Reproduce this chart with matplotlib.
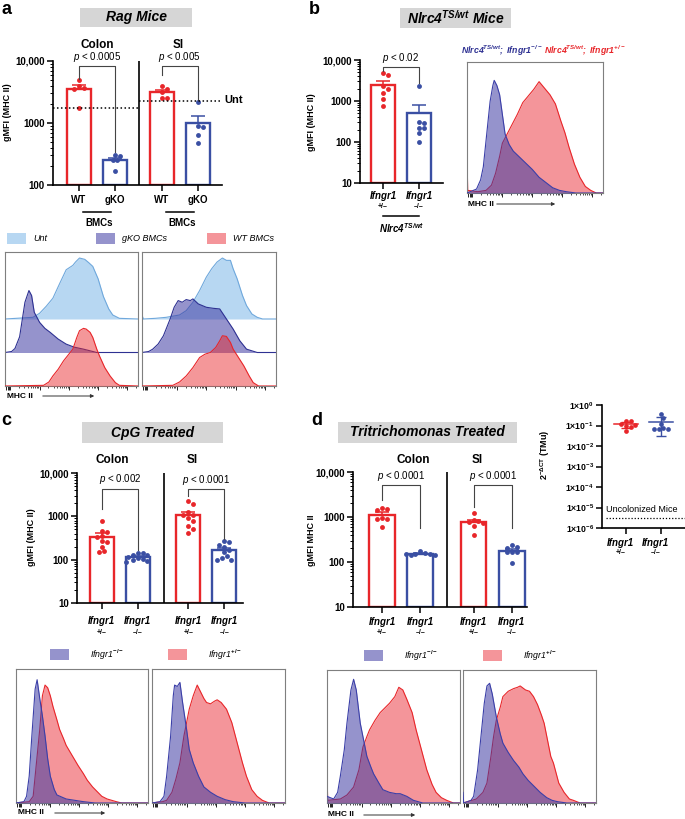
import numpy as np
import matplotlib
matplotlib.use("Agg")
import matplotlib.pyplot as plt
from matplotlib.patches import Rectangle, FancyArrowPatch
from matplotlib.transforms import blended_transform_factory
from matplotlib.ticker import NullFormatter, LogLocator, FixedLocator

W, H = 685, 819

plt.rcParams['font.family'] = ['Liberation Sans', 'DejaVu Sans']
plt.rcParams['mathtext.fontset'] = 'custom'
plt.rcParams['mathtext.rm'] = 'Liberation Sans:bold'
plt.rcParams['mathtext.it'] = 'Liberation Sans:italic'
plt.rcParams['mathtext.bf'] = 'Liberation Sans:italic:bold'

RED = '#E8262A'
BLUE = '#3A4FA3'
PINK = '#F4959A'
LAV = '#3E3AA2'
LAV_EDGE = '#3B3FA8'
UNT_FILL = '#B7D7F2'
UNT_EDGE = '#6FA8DC'

# ---- data ----
# a: Rag mice, gMFI (MHC II); colon WT, colon gKO, SI WT, SI gKO
a_labels = ['WT', 'gKO', 'WT', 'gKO']
a_vals = [[4900, 3900, 3700, 3600, 1750],
          [300, 290, 255, 250, 170],
          [4000, 3600, 3200, 2500, 2500],
          [2150, 900, 850, 640, 470]]
a_unt = [1770, 2290]
a_sig = ['p < 0.0005', 'p < 0.005']

# b: Nlrc4 TS/wt mice, Ifngr1 +/- and -/-
b_vals = [[4900, 4200, 2300, 2000, 1550, 1100, 760],
          [2330, 300, 290, 220, 215, 165, 100]]
b_sig = ['p < 0.02']

# c: CpG treated; colon +/-, colon -/-, SI +/-, SI -/-
c_vals = [[800, 470, 430, 350, 340, 270, 250, 200, 160, 150],
          [145, 140, 130, 125, 115, 110, 105, 100, 95, 90],
          [2200, 1900, 1250, 1100, 1050, 900, 800, 600, 500, 420],
          [270, 250, 220, 200, 170, 150, 120, 110, 100, 100]]
c_sig = ['p < 0.002', 'p < 0.0001']

# d: Tritrichomonas treated
d_vals = [[1600, 1500, 1450, 930, 900, 900, 590],
          [180, 155, 150, 148, 146, 145, 150],
          [1250, 860, 820, 780, 740, 620, 400],
          [240, 215, 210, 170, 165, 165, 95]]
d_sig = ['p < 0.0001', 'p < 0.0001']

# d inset: 2^-dCT (TMu)
tmu_het = [0.17, 0.16, 0.12, 0.11, 0.10, 0.085, 0.055]
tmu_ko = [0.36, 0.22, 0.12, 0.075, 0.07, 0.07, 0.07]
uncolonized = 3e-6

# bracket heights: (top, left leg end, right leg end)
a_br = [(8400, 5200, 345), (8400, 5900, 2350)]
b_br = [(6900, 5400, 2700)]
c_br = [(4370, 1500, 165), (4300, 3000, 300)]
d_br = [(5200, 2400, 560), (5200, 1700, 560)]

# histogram outlines, (fraction of x range, height)
a1_unt = [(0, 0), (0.21, 0.05), (0.26, 0.17), (0.31, 0.38), (0.36, 0.62), (0.41, 1.05), (0.46, 1.47),
          (0.51, 1.6), (0.53, 1.7), (0.56, 1.82), (0.6, 1.78), (0.63, 1.68), (0.66, 1.57), (0.70, 1.2),
          (0.74, 0.67), (0.78, 0.3), (0.81, 0.12), (0.86, 0.02), (1, 0)]
a1_gko = [(0, 0), (0.05, 0.03), (0.075, 0.12), (0.11, 0.47), (0.15, 1.5), (0.18, 1.85), (0.2, 1.7),
          (0.22, 1.2), (0.26, 0.9), (0.3, 0.72), (0.34, 0.6), (0.4, 0.4), (0.46, 0.25), (0.52, 0.16),
          (0.59, 0.1), (0.69, 0.0), (1, 0)]
a1_wt = [(0, 0), (0.29, 0.02), (0.33, 0.12), (0.36, 0.3), (0.40, 0.5), (0.44, 0.75), (0.48, 0.95),
         (0.51, 1.1), (0.54, 1.45), (0.56, 1.65), (0.59, 1.72), (0.61, 1.7), (0.64, 1.6), (0.66, 1.45),
         (0.69, 1.1), (0.71, 0.9), (0.75, 0.55), (0.79, 0.3), (0.83, 0.1), (0.86, 0.02), (1, 0)]
a2_unt = [(0, 0.12), (0.01, 0), (0.1, 0.02), (0.18, 0.05), (0.28, 0.12), (0.33, 0.25), (0.38, 0.5),
          (0.43, 0.85), (0.48, 1.25), (0.52, 1.5), (0.56, 1.7), (0.6, 1.82), (0.63, 1.75), (0.66, 1.75),
          (0.68, 1.5), (0.71, 1.2), (0.75, 0.7), (0.78, 0.4), (0.82, 0.15), (0.86, 0.05), (0.9, 0), (1, 0)]
a2_gko = [(0, 0), (0.05, 0.03), (0.08, 0.1), (0.12, 0.25), (0.16, 0.5), (0.21, 1.0), (0.24, 1.35),
          (0.27, 1.55), (0.3, 1.5), (0.33, 1.58), (0.36, 1.55), (0.38, 1.6), (0.42, 1.45), (0.48, 1.35),
          (0.53, 1.32), (0.58, 1.3), (0.63, 1.0), (0.68, 0.7), (0.73, 0.35), (0.78, 0.1), (0.86, 0), (1, 0)]
a2_wt = [(0, 0), (0.23, 0.02), (0.28, 0.12), (0.33, 0.3), (0.38, 0.55), (0.43, 0.85), (0.47, 0.95),
         (0.51, 1.0), (0.55, 1.15), (0.58, 1.35), (0.6, 1.5), (0.63, 1.48), (0.66, 1.3), (0.68, 1.1),
         (0.72, 0.85), (0.76, 0.6), (0.8, 0.3), (0.83, 0.1), (0.87, 0), (1, 0)]

b_ko = [(0, 0), (0.07, 0.03), (0.10, 0.1), (0.12, 0.2), (0.15, 0.5), (0.17, 0.7), (0.19, 0.82), (0.20, 0.86),
        (0.22, 0.82), (0.24, 0.75), (0.26, 0.6), (0.28, 0.45), (0.31, 0.37), (0.34, 0.32), (0.38, 0.28),
        (0.44, 0.22), (0.48, 0.18), (0.53, 0.12), (0.58, 0.08), (0.63, 0.04), (0.68, 0.02), (0.73, 0.01),
        (0.8, 0), (1, 0)]
b_het = [(0, 0.3), (0.005, 0.02), (0.08, 0.01), (0.14, 0.02), (0.18, 0.06), (0.21, 0.15), (0.24, 0.28),
         (0.26, 0.38), (0.29, 0.44), (0.33, 0.52), (0.37, 0.6), (0.41, 0.69), (0.45, 0.74), (0.49, 0.79),
         (0.53, 0.85), (0.57, 0.8), (0.61, 0.75), (0.65, 0.68), (0.69, 0.55), (0.72, 0.46), (0.75, 0.35),
         (0.79, 0.22), (0.83, 0.12), (0.87, 0.05), (0.91, 0.02), (0.95, 0.0), (1, 0)]

c1_ko = [(0, 0), (0.06, 0.01), (0.08, 0.05), (0.10, 0.2), (0.12, 0.5), (0.145, 0.85), (0.16, 0.92),
         (0.18, 0.78), (0.2, 0.65), (0.22, 0.5), (0.24, 0.33), (0.26, 0.2), (0.29, 0.1), (0.31, 0.06),
         (0.38, 0.03), (0.51, 0.01), (0.6, 0), (1, 0)]
c1_het = [(0, 0), (0.1, 0.01), (0.13, 0.05), (0.15, 0.25), (0.18, 0.55), (0.2, 0.8), (0.22, 0.88),
          (0.24, 0.86), (0.26, 0.8), (0.28, 0.72), (0.31, 0.62), (0.33, 0.55), (0.36, 0.48), (0.38, 0.43),
          (0.41, 0.38), (0.44, 0.33), (0.47, 0.28), (0.51, 0.22), (0.54, 0.17), (0.58, 0.12), (0.61, 0.09),
          (0.65, 0.05), (0.69, 0.03), (0.76, 0.01), (0.8, 0), (1, 0)]
c2_ko = [(0, 0), (0.06, 0.01), (0.09, 0.05), (0.11, 0.2), (0.14, 0.5), (0.16, 0.8), (0.17, 0.88),
         (0.19, 0.87), (0.21, 0.9), (0.23, 0.75), (0.26, 0.55), (0.28, 0.4), (0.31, 0.3), (0.35, 0.2),
         (0.39, 0.12), (0.44, 0.08), (0.49, 0.05), (0.55, 0.025), (0.61, 0.01), (0.7, 0), (1, 0)]
c2_het = [(0, 0), (0.08, 0.01), (0.11, 0.02), (0.15, 0.08), (0.18, 0.18), (0.21, 0.3), (0.24, 0.5),
          (0.26, 0.6), (0.28, 0.7), (0.31, 0.8), (0.34, 0.88), (0.36, 0.84), (0.39, 0.78), (0.41, 0.75),
          (0.44, 0.74), (0.47, 0.76), (0.49, 0.77), (0.52, 0.75), (0.56, 0.7), (0.6, 0.6), (0.64, 0.45),
          (0.68, 0.3), (0.71, 0.2), (0.75, 0.1), (0.79, 0.05), (0.83, 0.02), (0.88, 0), (1, 0)]

d1_ko = [(0, 0.05), (0.05, 0.03), (0.08, 0.08), (0.1, 0.2), (0.13, 0.4), (0.15, 0.6), (0.18, 0.85),
         (0.2, 0.93), (0.22, 0.85), (0.25, 0.6), (0.28, 0.45), (0.3, 0.35), (0.33, 0.27), (0.35, 0.22),
         (0.39, 0.15), (0.42, 0.1), (0.47, 0.08), (0.52, 0.07), (0.55, 0.07), (0.6, 0.05), (0.65, 0.02),
         (0.72, 0), (1, 0)]
d1_het = [(0, 0.25), (0.005, 0.02), (0.1, 0.03), (0.15, 0.06), (0.2, 0.12), (0.24, 0.25), (0.27, 0.42),
          (0.3, 0.5), (0.32, 0.55), (0.36, 0.62), (0.4, 0.68), (0.44, 0.72), (0.47, 0.75), (0.51, 0.8),
          (0.54, 0.87), (0.57, 0.85), (0.6, 0.78), (0.64, 0.68), (0.67, 0.55), (0.71, 0.4), (0.75, 0.25),
          (0.79, 0.14), (0.82, 0.08), (0.86, 0.04), (0.9, 0.02), (0.95, 0), (1, 0)]
d2_ko = [(0, 0.08), (0.005, 0), (0.06, 0.02), (0.08, 0.05), (0.11, 0.25), (0.13, 0.45), (0.16, 0.75),
         (0.18, 0.88), (0.2, 0.9), (0.22, 0.82), (0.25, 0.65), (0.28, 0.52), (0.3, 0.45), (0.34, 0.38),
         (0.38, 0.32), (0.42, 0.27), (0.45, 0.22), (0.49, 0.17), (0.53, 0.13), (0.58, 0.08), (0.63, 0.04),
         (0.67, 0.02), (0.71, 0.01), (0.78, 0), (1, 0)]
d2_het = [(0, 0), (0.1, 0.03), (0.15, 0.08), (0.18, 0.15), (0.21, 0.35), (0.23, 0.5), (0.25, 0.62),
          (0.28, 0.72), (0.3, 0.8), (0.34, 0.84), (0.38, 0.86), (0.41, 0.87), (0.43, 0.88), (0.47, 0.85),
          (0.5, 0.84), (0.53, 0.8), (0.56, 0.74), (0.59, 0.66), (0.61, 0.6), (0.64, 0.45), (0.66, 0.35),
          (0.68, 0.3), (0.72, 0.15), (0.76, 0.08), (0.8, 0.03), (0.83, 0.02), (0.88, 0), (1, 0)]

fig = plt.figure(figsize=(W / 100, H / 100), dpi=100)


def fx(x):
    return x / W


def fy(y):
    return 1 - y / H


def rect(x0, y0, x1, y1):
    return [x0 / W, 1 - y1 / H, (x1 - x0) / W, (y1 - y0) / H]


def ftext(x, y, s, **kw):
    kw.setdefault('ha', 'center')
    kw.setdefault('va', 'center')
    fig.text(fx(x), fy(y), s, **kw)


def frect(x0, y0, x1, y1, color):
    fig.add_artist(Rectangle((fx(x0), fy(y1)), (x1 - x0) / W, (y1 - y0) / H,
                             transform=fig.transFigure, color=color, lw=0, zorder=0))


def farrow(x0, x1, y):
    fig.add_artist(FancyArrowPatch((fx(x0), fy(y)), (fx(x1), fy(y)), transform=fig.transFigure,
                                   arrowstyle='-|>', mutation_scale=5, lw=0.7, color='#333333'))


def swarm(ax, x0, vals, d=4.8):
    # simple greedy beeswarm in pixel space
    tr = ax.transData
    inv = tr.inverted()
    placed, out = [], []
    for v in vals:
        cx, cy = tr.transform((x0, v))
        for k in [0, 0.5, -0.5, 1, -1, 1.5, -1.5, 2, -2, 2.5, -2.5, 3, -3]:
            px = cx + k * d
            if all((px - qx) ** 2 + (cy - qy) ** 2 >= (d * 0.97) ** 2 for qx, qy in placed):
                break
        placed.append((px, cy))
        out.append(inv.transform((px, cy))[0])
    return out


def style_log_axis(ax, ymin, labels):
    for s in ['top', 'right']:
        ax.spines[s].set_visible(False)
    for s in ['left', 'bottom']:
        ax.spines[s].set_linewidth(1.2)
    ticks = [10 ** e for e in range(int(np.log10(ymin)), 5)]
    ax.set_yticks(ticks)
    ax.set_yticklabels(labels, fontsize=7, fontweight='bold')
    ax.yaxis.set_minor_locator(LogLocator(base=10, subs=np.arange(2, 10)))
    ax.yaxis.set_minor_formatter(NullFormatter())
    ax.tick_params(axis='y', which='major', length=4, width=1.1, pad=2)
    ax.tick_params(axis='y', which='minor', length=2.2, width=0.7)
    ax.tick_params(axis='x', length=4, width=1.1, labelbottom=False)


def bar_panel(box, pos, vals, cols, ymin, xlim, divider, labels, brackets, sigs):
    ax = fig.add_axes(rect(*box))
    ax.set_yscale('log')
    ax.set_ylim(ymin, 10000)
    ax.set_xlim(*xlim)
    for p, v, c in zip(pos, vals, cols):
        v = np.array(v, float)
        m = v.mean()
        sem = v.std(ddof=1) / np.sqrt(len(v))
        ax.bar(p, m - ymin, bottom=ymin, width=0.67, color='white', edgecolor=c, lw=1.7, zorder=2)
        ax.errorbar([p], [m], yerr=[[0], [sem]], fmt='none', ecolor=c, elinewidth=1.1,
                    capsize=5, capthick=1.1, zorder=3)
        xs = swarm(ax, p, v)
        ax.plot(xs, v, 'o', ms=3.5, color=c, mec='none', zorder=4, clip_on=False)
    if divider is not None:
        ax.axvline(divider, color='black', lw=1.2)
    ax.set_xticks(pos)
    style_log_axis(ax, ymin, labels)
    for i, (br, s) in enumerate(zip(brackets, sigs)):
        x1, x2 = pos[2 * i], pos[2 * i + 1]
        top, yl, yr = br
        ax.plot([x1, x1, x2, x2], [yl, top, top, yr], color='#444444', lw=0.8, zorder=5)
        ax.annotate('$p$' + s[1:], xy=((x1 + x2) / 2, top), xytext=(0, 1.5), textcoords='offset points',
                    ha='center', va='bottom', fontsize=7)
    return ax


def under(ax, x, y, s, **kw):
    kw.setdefault('ha', 'center')
    kw.setdefault('va', 'center')
    ax.text(x, fy(y), s, transform=blended_transform_factory(ax.transData, fig.transFigure),
            clip_on=False, **kw)


def flow_ticks(ax):
    starts = [0.04, 0.26, 0.48, 0.70, 0.92]
    majors = [0.01, 0.02, 0.03] + starts
    minors = [s + 0.22 * np.log10(k) for s in starts for k in range(2, 10) if s + 0.22 * np.log10(k) < 1]
    ax.xaxis.set_major_locator(FixedLocator(majors))
    ax.xaxis.set_minor_locator(FixedLocator(minors))
    ax.tick_params(axis='x', which='major', length=2.6, width=0.6, labelbottom=False)
    ax.tick_params(axis='x', which='minor', length=1.5, width=0.5)
    ax.set_yticks([])


def hist_box(box, layers, ymax):
    ax = fig.add_axes(rect(*box))
    for curve, base, fill, alpha, edge, z in layers:
        xs = [p[0] for p in curve]
        hs = [base + p[1] for p in curve]
        ax.fill_between(xs, base, hs, color=fill, alpha=alpha, lw=0, zorder=z)
        ax.plot(xs, hs, color=edge, lw=0.8, zorder=z + 0.5 if edge != LAV_EDGE else 10)
    ax.set_xlim(0, 1)
    ax.set_ylim(0, ymax)
    for s in ax.spines.values():
        s.set_color('#7f7f7f')
        s.set_linewidth(0.8)
    flow_ticks(ax)
    return ax


def two_layers(het, ko):
    return [(het, 0, PINK, 1.0, RED, 2), (ko, 0, LAV, 0.55, LAV_EDGE, 3)]


KO_LAB = r'Ifngr1$^{\mathit{-/-}}$'
HET_LAB = r'Ifngr1$^{\mathit{+/-}}$'

# ---------------- panel a ----------------
ftext(1, 9, 'a', fontsize=13, fontweight='bold', ha='left')
frect(80, 8, 192, 27, '#D6D6D6')
ftext(136, 17.5, 'Rag Mice', fontsize=10, fontweight='bold', style='italic')
ftext(97, 45, 'Colon', fontsize=8.5, fontweight='bold')
ftext(178, 45, 'SI', fontsize=8.5, fontweight='bold')
ftext(8, 112, 'gMFI (MHC II)', fontsize=6.5, fontweight='bold', rotation=90)

a_pos = [0, 1, 2.3, 3.3]
axa = bar_panel((53, 61, 222, 185), a_pos, a_vals, [RED, BLUE, RED, BLUE], 100, (-0.72, 3.97), 1.67,
                ['100', '1000', '10,000'], a_br, a_sig)
axa.plot([-0.72, 1.67], [a_unt[0]] * 2, color='black', lw=1.1, dashes=(1, 1.6), zorder=6)
axa.plot([1.67, 3.92], [a_unt[1]] * 2, color='black', lw=1.1, dashes=(1, 1.6), zorder=6, clip_on=False)
ftext(224, 100, 'Unt', fontsize=8, fontweight='bold', ha='left')
for p, s in zip(a_pos, a_labels):
    under(axa, p, 200, s, fontsize=7, fontweight='bold')
for p in [0.5, 2.8]:
    axa.plot([p - 0.38, p + 0.38], [fy(212)] * 2, color='black', lw=1.1, clip_on=False,
             transform=blended_transform_factory(axa.transData, fig.transFigure))
    under(axa, p + 0.06, 223, 'BMCs', fontsize=7, fontweight='bold')

# legend for a histograms
for (x0, c, lab) in [(7, UNT_FILL, 'Unt'), (96, '#9593CC', 'gKO BMCs'), (207, PINK, 'WT BMCs')]:
    frect(x0, 233, x0 + 19, 244, c)
    ftext(x0 + 26, 238.5, lab, fontsize=6.5, style='italic', ha='left')

for box, unt, gko, wt in [((5, 252, 138, 386), a1_unt, a1_gko, a1_wt),
                          ((142, 252, 276, 386), a2_unt, a2_gko, a2_wt)]:
    hist_box(box, [(unt, 2, UNT_FILL, 1.0, UNT_EDGE, 1),
                   (gko, 1, LAV, 0.55, '#2E3192', 2),
                   (wt, 0, RED, 0.48, RED, 3)], 4.0)
ftext(7, 396, 'MHC II', fontsize=6, fontweight='bold', ha='left')
farrow(40, 97, 396)

# ---------------- panel b ----------------
ftext(309, 9, 'b', fontsize=13, fontweight='bold', ha='left')
frect(400, 8, 511, 28, '#D6D6D6')
ftext(455.5, 18, r'$\mathbf{Nlrc4}^{\mathbf{TS/wt}}$ Mice', fontsize=10, fontweight='bold', style='italic')
ftext(311, 122, 'gMFI (MHC II)', fontsize=6.5, fontweight='bold', rotation=90)
b_pos = [0, 1]
axb = bar_panel((360, 60, 443, 183), b_pos, b_vals, [RED, BLUE], 10, (-0.64, 1.67), None,
                ['10', '100', '1000', '10,000'], b_br, b_sig)
for p, g in zip(b_pos, ['+/\u2013', '\u2013/\u2013']):
    under(axb, p, 196, 'Ifngr1', fontsize=7, fontweight='bold', style='italic')
    under(axb, p, 207, g, fontsize=5, fontweight='bold')
axb.plot([0, 1], [fy(216)] * 2, color='black', lw=1.1, clip_on=False,
         transform=blended_transform_factory(axb.transData, fig.transFigure))
under(axb, 0.5, 228, r'$\mathbf{Nlrc4}^{\mathbf{TS/wt}}$', fontsize=7)

ftext(461, 51, r'$\mathbf{Nlrc4}^{\mathbf{TS/wt}}\mathbf{;\ Ifngr1}^{\mathbf{-/-}}$', fontsize=6.3,
      color='#2E3192', ha='left')
ftext(544, 51, r'$\mathbf{Nlrc4}^{\mathbf{TS/wt}}\mathbf{;\ Ifngr1}^{\mathbf{+/-}}$', fontsize=6.3,
      color=RED, ha='left')
hist_box((467, 62, 603, 193), two_layers(b_het, b_ko), 1.0)
ftext(468, 204, 'MHC II', fontsize=6, fontweight='bold', ha='left')
farrow(494, 558, 204)

# ---------------- panel c ----------------
ftext(1, 421, 'c', fontsize=13, fontweight='bold', ha='left')
frect(82, 422, 223, 443, '#D6D6D6')
ftext(152.5, 432.5, 'CpG Treated', fontsize=10, fontweight='bold', style='italic')
ftext(112, 460, 'Colon', fontsize=8.5, fontweight='bold')
ftext(192, 460, 'SI', fontsize=8.5, fontweight='bold')
ftext(31, 537, 'gMFI (MHC II)', fontsize=6.5, fontweight='bold', rotation=90)
cd_pos = [0, 1, 2.4, 3.4]
axc = bar_panel((77, 473, 243, 603), cd_pos, c_vals, [RED, BLUE, RED, BLUE], 10, (-0.69, 3.92), 1.72,
                ['10', '100', '1000', '10,000'], c_br, c_sig)
for p, g in zip(cd_pos, ['+/\u2013', '\u2013/\u2013'] * 2):
    under(axc, p, 621, 'Ifngr1', fontsize=7, fontweight='bold', style='italic')
    under(axc, p, 633, g, fontsize=5, fontweight='bold')

frect(50, 649, 69, 660, '#9593CC')
ftext(90, 655, KO_LAB, fontsize=6.3, style='italic', ha='left')
frect(168, 649, 187, 660, PINK)
ftext(208, 655, HET_LAB, fontsize=6.3, style='italic', ha='left')
hist_box((16, 669, 148, 803), two_layers(c1_het, c1_ko), 1.0)
hist_box((152, 669, 285, 803), two_layers(c2_het, c2_ko), 1.0)
ftext(18, 813, 'MHC II', fontsize=6, fontweight='bold', ha='left')
farrow(52, 108, 813)

# ---------------- panel d ----------------
ftext(311, 421, 'd', fontsize=13, fontweight='bold', ha='left')
frect(338, 422, 517, 443, '#D6D6D6')
ftext(427.5, 432.5, 'Tritrichomonas Treated', fontsize=10, fontweight='bold', style='italic')
ftext(413, 460, 'Colon', fontsize=8.5, fontweight='bold')
ftext(477, 460, 'SI', fontsize=8.5, fontweight='bold')
ftext(312, 540, 'gMFI MHC II', fontsize=6.5, fontweight='bold', rotation=90)
axd = bar_panel((353, 472, 527, 607), cd_pos, d_vals, [RED, BLUE, RED, BLUE], 10, (-0.76, 3.8), 1.70,
                ['10', '100', '1000', '10,000'], d_br, d_sig)
for p, g in zip(cd_pos, ['+/\u2013', '\u2013/\u2013'] * 2):
    under(axd, p, 622, 'Ifngr1', fontsize=7, fontweight='bold', style='italic')
    under(axd, p, 633, g, fontsize=5, fontweight='bold')

frect(364, 650, 383, 661, '#9593CC')
ftext(404, 655.5, KO_LAB, fontsize=6.3, style='italic', ha='left')
frect(483, 650, 502, 661, PINK)
ftext(523, 655.5, HET_LAB, fontsize=6.3, style='italic', ha='left')
hist_box((327, 670, 460, 803), two_layers(d1_het, d1_ko), 1.0)
hist_box((463, 670, 596, 803), two_layers(d2_het, d2_ko), 1.0)
ftext(328, 815, 'MHC II', fontsize=6, fontweight='bold', ha='left')
farrow(361, 418, 815)

# ---------------- inset: TMu colonisation ----------------
axi = fig.add_axes(rect(602, 405, 685, 528))
axi.set_yscale('log')
axi.set_ylim(1e-6, 1)
axi.set_xlim(-0.69, 1.69)
for p, v, c in zip([0, 1], [tmu_het, tmu_ko], [RED, BLUE]):
    v = np.array(v)
    m, sd = v.mean(), v.std(ddof=1)
    xs = swarm(axi, p, v, d=4.6)
    axi.plot(xs, v, 'o', ms=3.4, color=c, mec='none', zorder=4)
    axi.plot([p - 0.35, p + 0.35], [m, m], color=c, lw=1.1, zorder=3)
    axi.errorbar([p], [m], yerr=[[sd], [sd]], fmt='none', ecolor=c, elinewidth=1, capsize=3.5,
                 capthick=1, zorder=3)
axi.plot([-0.57, 1.69], [uncolonized] * 2, color='black', lw=0.9, dashes=(1, 1.5))
axi.text(-0.57, uncolonized * 1.6, 'Uncolonized Mice', fontsize=6.5, ha='left', va='bottom', clip_on=False)
for s in ['top', 'right']:
    axi.spines[s].set_visible(False)
for s in ['left', 'bottom']:
    axi.spines[s].set_linewidth(1.2)
exps = [0, -1, -2, -3, -4, -5, -6]
axi.set_yticks([10.0 ** e for e in exps])
axi.set_yticklabels(['1\u00d710$^{%d}$' % e for e in exps], fontsize=6.2, fontweight='bold')
axi.yaxis.set_minor_locator(FixedLocator([]))
axi.tick_params(axis='y', length=4, width=1.1, pad=2)
axi.set_xticks([0, 1])
axi.tick_params(axis='x', length=4, width=1.1, labelbottom=False)
for p, g in zip([0, 1], ['+/\u2013', '\u2013/\u2013']):
    under(axi, p - 0.15, 543, 'Ifngr1', fontsize=7, fontweight='bold', style='italic')
    under(axi, p - 0.15, 553, g, fontsize=5, fontweight='bold')
ftext(545, 455, r'2$^{\mathrm{-\Delta CT}}$ (TMu)', fontsize=6.5, fontweight='bold', rotation=90)

fig.savefig('out.png', dpi=100)
